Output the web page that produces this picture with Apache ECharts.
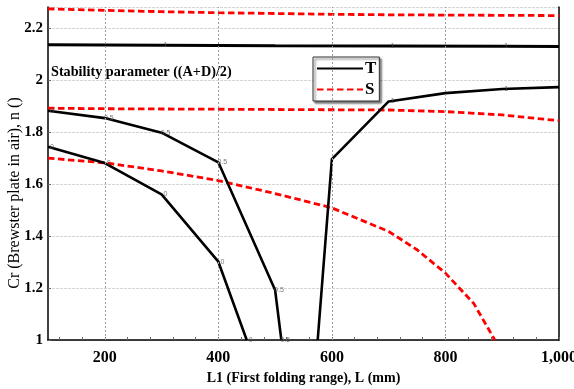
<!DOCTYPE html>
<html><head><meta charset="utf-8">
<script src="https://cdn.jsdelivr.net/npm/echarts@6/dist/echarts.min.js"></script>
<style>html,body{margin:0;padding:0;background:#fff}#c{width:574px;height:389px}</style>
</head><body><div id="c"></div>
<script>
// Tick labels
const xTickLabels = [200, 400, 600, 800, 1000];
const xGridValues = [200, 400, 600, 800];
const yTickLabels = [1, 1.2, 1.4, 1.6, 1.8, 2, 2.2];

// T curves (black, solid)
const tTopX = [100, 300, 500, 700, 900, 1000];
const tTopY = [2.135, 2.133, 2.131, 2.130, 2.129, 2.128];
const tTopLbl = ['', '1', '', '1', '1', ''];

const tHalfX = [100, 200, 300, 400, 500, 511];
const tHalfY = [1.881, 1.853, 1.797, 1.683, 1.192, 1.0];
const tHalfLbl = ['0', '0.5', '0.5', '0.5', '0.5', '0.5'];

const tZeroX = [100, 200, 300, 400, 450];
const tZeroY = [1.743, 1.680, 1.560, 1.301, 1.0];
const tZeroLbl = ['0', '0', '0', '0', '0'];

const tRightX = [575, 600, 700, 800, 900, 1000];
const tRightY = [1.0, 1.695, 1.917, 1.949, 1.965, 1.972];
const tRightLbl = ['', '', '1', '', '1', ''];

// S curves (red, dashed)
const sTopX = [100, 200, 300, 400, 500, 600, 700, 800, 900, 1000];
const sTopY = [2.273, 2.267, 2.262, 2.258, 2.255, 2.252, 2.250, 2.249, 2.248, 2.247];

const sMidX = [100, 200, 300, 400, 500, 600, 700, 800, 900, 1000];
const sMidY = [1.891, 1.889, 1.888, 1.887, 1.886, 1.885, 1.884, 1.878, 1.865, 1.843];

const sLowX = [100, 200, 300, 400, 500, 600, 700, 750, 800, 850, 887];
const sLowY = [1.699, 1.681, 1.650, 1.613, 1.563, 1.508, 1.417, 1.347, 1.257, 1.140, 1.0];

const minorTicks = [];
for (let v = 120; v <= 1000; v += 40) minorTicks.push(v);

const serif = '"Liberation Serif", "Times New Roman", serif';

function lineData(xs, ys) { return xs.map((x, i) => [x, ys[i]]); }
function tSeries(xs, ys, w) {
  return { name: 'T', type: 'line', data: lineData(xs, ys), symbol: 'none',
    lineStyle: { color: '#000', width: w || 2.6 }, itemStyle: { color: '#000' },
    z: 3, animation: false };
}
function sSeries(xs, ys) {
  return { name: 'S', type: 'line', data: lineData(xs, ys), symbol: 'none',
    lineStyle: { color: '#ff0000', width: 2.8, type: [6.5, 3.5] }, itemStyle: { color: '#ff0000' },
    z: 2, animation: false };
}
function lblSeries(xs, ys, lbls) {
  return { type: 'scatter', symbolSize: 1, itemStyle: { color: 'rgba(0,0,0,0)' }, z: 4, silent: true,
    data: xs.map((x, i) => ({ value: [x, ys[i]], lbl: lbls[i] })),
    label: { show: true, position: 'inside', offset: [4, 0], fontSize: 7, color: '#555',
      fontFamily: '"Liberation Sans", sans-serif', formatter: p => p.data.lbl },
    animation: false };
}

const chart = echarts.init(document.getElementById('c'), null, { renderer: 'canvas' });
chart.setOption({
  animation: false,
  backgroundColor: '#fff',
  grid: { left: 48, right: 15, top: 7, bottom: 49, containLabel: false, outerBoundsMode: 'none' },
  xAxis: {
    type: 'value', min: 100, max: 1000,
    axisLine: { show: true, lineStyle: { color: '#000', width: 1.5 } },
    axisTick: { show: true, inside: true, length: 3, customValues: minorTicks, lineStyle: { color: '#666' } },
    axisLabel: { customValues: xTickLabels, margin: 10, color: '#000', fontFamily: serif, fontWeight: 'bold', fontSize: 16,
      formatter: v => v >= 1000 ? v.toLocaleString('en-US') : String(v) },
    splitLine: { show: false },
    name: 'L1 (First folding range), L (mm)', nameLocation: 'middle', nameGap: 30,
    nameTextStyle: { color: '#000', fontFamily: serif, fontWeight: 'bold', fontSize: 14 }
  },
  yAxis: [{
    type: 'value', min: 1, max: 2.28, interval: 0.2,
    axisLine: { show: true, lineStyle: { color: '#000', width: 1.5 } },
    axisTick: { show: true, inside: true, length: 3, lineStyle: { color: '#666' } },
    axisLabel: { margin: 5, color: '#000', fontFamily: serif, fontWeight: 'bold', fontSize: 15, showMaxLabel: false,
      formatter: v => yTickLabels.indexOf(Math.round(v * 10) / 10) >= 0 ? String(Math.round(v * 10) / 10) : '' },
    splitLine: { show: true, lineStyle: { color: '#d4d4d4', width: 1, type: [3, 1] } }
  }, {
    type: 'value', min: 1, max: 2.28, position: 'right',
    axisLine: { show: true, lineStyle: { color: '#000', width: 1.5 } },
    axisTick: { show: false }, axisLabel: { show: false }, splitLine: { show: false }
  }],
  legend: {
    data: ['T', 'S'], orient: 'vertical', left: 313, top: 57,
    backgroundColor: '#fff', borderColor: '#333', borderWidth: 1,
    shadowColor: 'rgba(0,0,0,0.55)', shadowBlur: 2, shadowOffsetX: 2, shadowOffsetY: 2,
    padding: [3, 3, 3, 3], itemGap: 4, itemWidth: 46, itemHeight: 15,
    itemStyle: { opacity: 0 },
    textStyle: { color: '#000', fontFamily: serif, fontWeight: 'bold', fontSize: 17, padding: [0, 0, 0, -3] },
    selectedMode: false
  },
  graphic: [{
    type: 'text', left: 51, top: 65,
    style: { text: 'Stability parameter ((A+D)/2)', fill: '#000', font: 'bold 14.2px ' + serif }
  }, {
    type: 'text', x: 15, y: 193, rotation: Math.PI / 2,
    style: { text: 'Cr (Brewster plate in air), n ()', fill: '#000', font: '16px ' + serif, align: 'center', verticalAlign: 'middle' }
  }],
  series: [
    { type: 'line', data: [], silent: true,
      markLine: { silent: true, symbol: 'none', label: { show: false },
        lineStyle: { color: '#999', type: [2, 2], width: 1 },
        data: xGridValues.map(v => ({ xAxis: v })) } },
    tSeries(tTopX, tTopY, 3),
    tSeries(tHalfX, tHalfY),
    tSeries(tZeroX, tZeroY),
    tSeries(tRightX, tRightY),
    sSeries(sTopX, sTopY),
    sSeries(sMidX, sMidY),
    sSeries(sLowX, sLowY),
    lblSeries(tTopX, tTopY, tTopLbl),
    lblSeries(tHalfX, tHalfY, tHalfLbl),
    lblSeries(tZeroX, tZeroY, tZeroLbl),
    lblSeries(tRightX, tRightY, tRightLbl)
  ]
});
</script></body></html>
